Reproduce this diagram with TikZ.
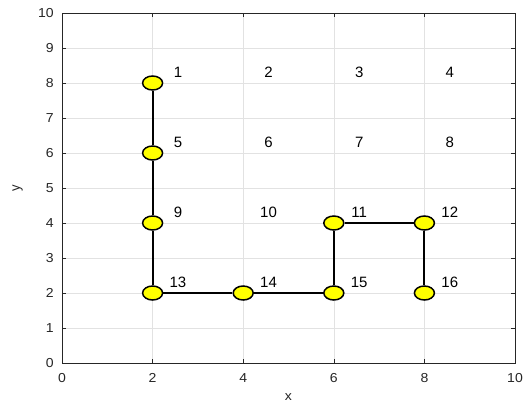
\documentclass[tikz,border=0pt]{standalone}
\usepackage{fontspec}
\setmainfont{Liberation Sans}
\usetikzlibrary{shapes.geometric}
\definecolor{gridc}{RGB}{226,226,226}
\definecolor{axc}{RGB}{38,38,38}
\definecolor{mkfill}{RGB}{255,255,0}
\tikzset{
  mk/.style={ellipse, draw=black, line width=1.5pt, fill=mkfill, minimum width=20pt, minimum height=14pt, inner sep=0pt},
  edge/.style={draw=black, line width=2pt},
  lbl/.style={font=\fontsize{15}{17}\selectfont, text=black, inner sep=0pt},
  ticklbl/.style={font=\fontsize{13}{15}\selectfont, text=axc, inner sep=0pt, xscale=1.08},
}
\begin{document}
\begin{tikzpicture}[x=1pt,y=-1pt]
\useasboundingbox (0,0) rectangle (526,407);
\fill[white] (0,0) rectangle (526,407);
\begin{scope}[shift={(62,363)},x=45.3pt,y=35pt]
  % grid
  \draw[gridc, line width=0.6pt] (0,0) grid[xstep=2,ystep=1] (10,10);
  % ticks
  \foreach \t in {2,4,6,8}{
    \draw[axc, line width=0.6pt] (\t,0) -- ++(0pt,4pt);
    \draw[axc, line width=0.6pt] (\t,10) -- ++(0pt,-4pt);
  }
  \foreach \t in {1,...,9}{
    \draw[axc, line width=0.6pt] (0,\t) -- ++(4pt,0pt);
    \draw[axc, line width=0.6pt] (10,\t) -- ++(-4pt,0pt);
  }
  % axes box
  \draw[axc, line width=0.7pt] (0,0) rectangle (10,10);
  % tick labels
  \foreach \t in {0,2,4,6,8,10}{
    \node[ticklbl, anchor=north] (xt\t) at ([yshift=-10pt]\t,0) {\t};
  }
  \foreach \t in {0,...,10}{
    \node[ticklbl, anchor=east] (yt\t) at ([xshift=-8pt]0,\t) {\t};
  }
  % axis labels
  \node[ticklbl] (xlab) at (5,-0.98) {x};
  \node[ticklbl, rotate=90] (ylab) at (-0.98,5) {y};
  % markers
  \node[mk] (n1) at (2,8) {};
  \node[mk] (n5) at (2,6) {};
  \node[mk] (n9) at (2,4) {};
  \node[mk] (n13) at (2,2) {};
  \node[mk] (n14) at (4,2) {};
  \node[mk] (n15) at (6,2) {};
  \node[mk] (n11) at (6,4) {};
  \node[mk] (n12) at (8,4) {};
  \node[mk] (n16) at (8,2) {};
  % edges
  \draw[edge] (n1) -- (n5);
  \draw[edge] (n5) -- (n9);
  \draw[edge] (n9) -- (n13);
  \draw[edge] (n13) -- (n14);
  \draw[edge] (n14) -- (n15);
  \draw[edge] (n15) -- (n11);
  \draw[edge] (n11) -- (n12);
  \draw[edge] (n12) -- (n16);
  % labels
  \node[lbl] (l1) at (2.56,8.3) {1};
  \node[lbl] (l2) at (4.56,8.3) {2};
  \node[lbl] (l3) at (6.56,8.3) {3};
  \node[lbl] (l4) at (8.56,8.3) {4};
  \node[lbl] (l5) at (2.56,6.3) {5};
  \node[lbl] (l6) at (4.56,6.3) {6};
  \node[lbl] (l7) at (6.56,6.3) {7};
  \node[lbl] (l8) at (8.56,6.3) {8};
  \node[lbl] (l9) at (2.56,4.3) {9};
  \node[lbl] (l10) at (4.56,4.3) {10};
  \node[lbl] (l11) at (6.56,4.3) {11};
  \node[lbl] (l12) at (8.56,4.3) {12};
  \node[lbl] (l13) at (2.56,2.3) {13};
  \node[lbl] (l14) at (4.56,2.3) {14};
  \node[lbl] (l15) at (6.56,2.3) {15};
  \node[lbl] (l16) at (8.56,2.3) {16};
\end{scope}
\end{tikzpicture}
\end{document}
